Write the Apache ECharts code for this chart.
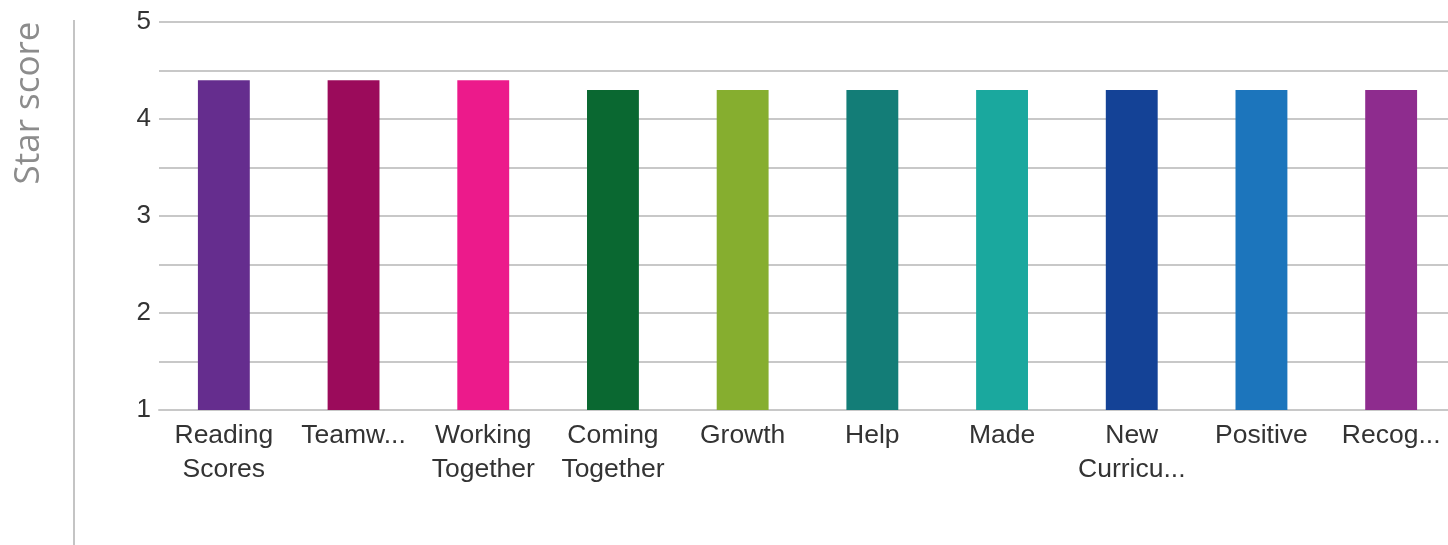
<!DOCTYPE html>
<html>
<head>
<meta charset="utf-8">
<script src="https://cdn.jsdelivr.net/npm/echarts@6/dist/echarts.min.js"></script>
<style>
html,body{margin:0;padding:0;background:#fff;overflow:hidden;width:1448px;height:545px;}
#chart{width:1456px;height:545px;}
</style>
</head>
<body>
<div id="chart"></div>
<script>
const categories = ["Reading\nScores", "Teamw...", "Working\nTogether", "Coming\nTogether", "Growth", "Help", "Made", "New\nCurricu...", "Positive", "Recog..."];
const scores = [4.4, 4.4, 4.4, 4.3, 4.3, 4.3, 4.3, 4.3, 4.3, 4.3];
const barColors = ["#652D8E", "#9B0B5B", "#EC1A8B", "#0A6831", "#86AE2F", "#137D77", "#1AA89E", "#144296", "#1C75BC", "#8E2C8E"];
const yTicks = [1, 2, 3, 4, 5];
const yTitle = "Star score";

const chart = echarts.init(document.getElementById('chart'), null, {renderer: 'canvas'});
chart.setOption({
  animation: false,
  grid: {left: 159, right: 0, top: 22, bottom: 135, containLabel: false},
  xAxis: {
    type: 'category',
    data: categories,
    axisLine: {show: true, lineStyle: {color: '#c8c8c8', width: 2}},
    axisTick: {show: false},
    axisLabel: {
      interval: 0, color: '#333', fontFamily: 'Liberation Sans, Arial, sans-serif',
      fontSize: 26.5, lineHeight: 34, margin: 9
    }
  },
  yAxis: {
    type: 'value',
    min: 1, max: 5, interval: 0.5,
    axisLine: {show: false},
    axisTick: {show: false},
    splitLine: {lineStyle: {color: '#c8c8c8', width: 2}},
    axisLabel: {
      color: '#333', fontFamily: 'Liberation Sans, Arial, sans-serif', fontSize: 26, margin: 8,
      formatter: function (v) { return yTicks.indexOf(v) >= 0 ? String(v) : ''; }
    }
  },
  series: [{
    type: 'bar',
    barWidth: '40%',
    data: scores.map((v, i) => ({value: v, itemStyle: {color: barColors[i]}}))
  }],
  graphic: [
    {type: 'line', shape: {x1: 74, y1: 20, x2: 74, y2: 545}, style: {stroke: '#c4c4c4', lineWidth: 2}},
    {type: 'text', x: 29, y: 103, rotation: Math.PI / 2,
     style: {text: yTitle, fill: '#8c8c8c', fontSize: 35, fontFamily: 'Open Sans, sans-serif', align: 'center', verticalAlign: 'middle'}}
  ]
});
</script>
</body>
</html>
